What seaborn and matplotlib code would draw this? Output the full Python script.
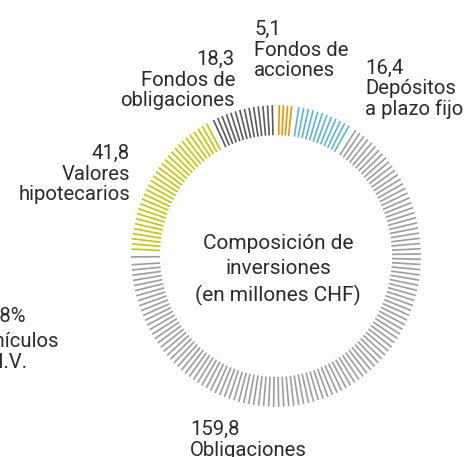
import numpy as np
import seaborn as sns
import matplotlib.pyplot as plt

# segments, clockwise from the top
names = ["Fondos de\nacciones", "Depósitos\na plazo fijo", "Obligaciones",
         "Vehículos\nde I.V.", "Valores\nhipotecarios", "Fondos de\nobligaciones"]
values = [5.1, 16.4, 159.8, 1.9, 41.8, 18.3]
value_labels = ["5,1", "16,4", "159,8", "0,8%", "41,8", "18,3"]
colors = ["#f39200", "#5bb4de", "#9d9d9d", "#9d9d9d", "#c9c300", "#595959"]

sns.set_theme(style="white")
plt.rcParams['font.family'] = ['Roboto', 'DejaVu Sans']

W, H = 465, 457
fig = plt.figure(figsize=(W / 100, H / 100), dpi=100)

# ring geometry in pixels
cx, cy, rx, ry = 276, 256, 145, 151
ax = fig.add_axes([(cx - rx) / W, 1 - (cy + ry) / H, 2 * rx / W, 2 * ry / H],
                  projection="polar")
ax.set_aspect("auto")
ax.set_theta_zero_location("N")
ax.set_theta_direction(-1)
ax.set_ylim(0, 1)
ax.axis("off")

step = 2.0  # degrees between ticks
total = sum(values)
start = 0.0
for v, c in zip(values, colors):
    span = v / total * 360
    n = max(int(round(span / step)), 1)
    spacing = span / (n + 0.6)
    mid = start + span / 2
    ang = mid + (np.arange(n) - (n - 1) / 2) * spacing
    ax.vlines(np.deg2rad(ang), 0.8, 1.0, colors=c, lw=1.2)
    start += span

txt = dict(fontsize=14.6, color="#2b2b2b", linespacing=1.1)


def label(x, y, s, ha):
    fig.text(x / W, 1 - y / H, s, ha=ha, va="center", **txt)


label(254, 50, value_labels[0] + "\n" + names[0], "left")
label(365, 89, value_labels[1] + "\n" + names[1], "left")
label(190, 440, value_labels[2] + "\n" + names[2], "left")
label(130, 174, value_labels[4] + "\n" + names[4], "right")
label(235, 80, value_labels[5] + "\n" + names[5], "right")
# the Vehículos label runs off the left edge, as in the original
label(26, 316, value_labels[3], "right")
label(-29, 352, names[3], "left")

fig.text(278 / W, 1 - 270 / H, "Composición de\ninversiones\n(en millones CHF)",
         ha="center", va="center", fontsize=15, color="#2b2b2b",
         linespacing=1.4)

fig.savefig("out.png", dpi=100)
